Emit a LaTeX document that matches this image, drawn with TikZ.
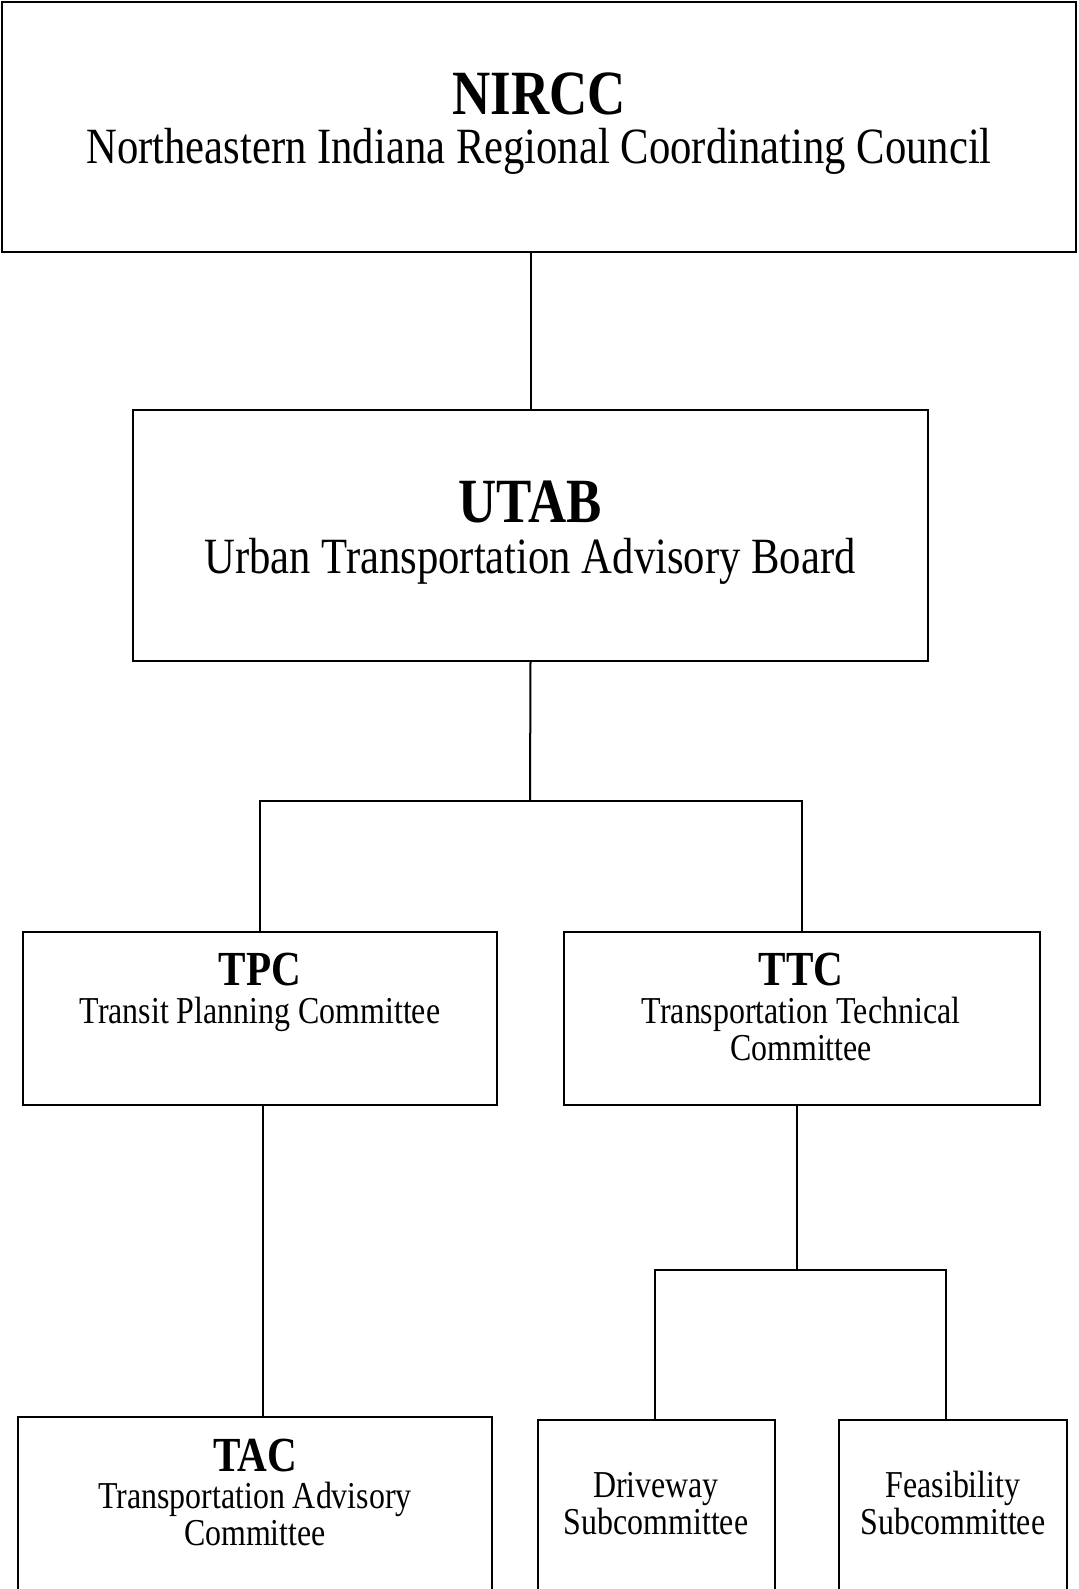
\documentclass[tikz,border=0pt]{standalone}
\usepackage{fontspec}
\setmainfont[FakeStretch=0.84]{Liberation Serif}

\tikzset{
  box/.style={draw, line width=1pt, rectangle, inner sep=0pt, outer sep=0pt, anchor=north west},
  link/.style={line width=1pt},
  bigname/.style={font=\fontsize{31.5}{31.5}\selectfont\bfseries, inner sep=0pt, anchor=base},
  bigtext/.style={font=\fontsize{25.4}{25.4}\selectfont, inner sep=0pt, anchor=base},
  unitname/.style={font=\fontsize{24.5}{24.5}\selectfont\bfseries, inner sep=0pt, anchor=base},
  unittext/.style={font=\fontsize{19}{18.5}\selectfont, inner sep=0pt, anchor=base, align=center}
}

\begin{document}
\begin{tikzpicture}[x=0.5pt, y=-0.5pt]
  \useasboundingbox (0,0) rectangle (1078,1589);

  % boxes
  \node[box, minimum width=537pt, minimum height=125pt] (nircc) at (2,2) {};
  \node[box, minimum width=397.5pt, minimum height=125.5pt] (utab) at (133,410) {};
  \node[box, minimum width=237pt, minimum height=86.5pt] (tpc) at (23,932) {};
  \node[box, minimum width=238pt, minimum height=86.5pt] (ttc) at (564,932) {};
  \node[box, minimum width=237pt, minimum height=111.5pt] (tac) at (18,1417) {};
  \node[box, minimum width=118.5pt, minimum height=110pt] (drive) at (538,1420) {};
  \node[box, minimum width=114pt, minimum height=110pt] (feas) at (839,1420) {};

  % labels (base = last line)
  \node[bigname] (nirccname) at (539,114.5) {NIRCC};
  \node[bigtext] (nircctext) at (539,164) {Northeastern Indiana Regional Coordinating Council};
  \node[bigname] (utabname) at (530,522) {UTAB};
  \node[bigtext] (utabtext) at (530,573.5) {Urban Transportation Advisory Board};
  \node[unitname] (tpcname) at (260,985) {TPC};
  \node[unittext] (tpctext) at (260,1023) {Transit Planning Committee};
  \node[unitname] (ttcname) at (801,985) {TTC};
  \node[unittext] (ttctext) at (801,1060) {Transportation Technical\\Committee};
  \node[unitname] (tacname) at (255,1471) {TAC};
  \node[unittext] (tactext) at (255,1545) {Transportation Advisory\\Committee};
  \node[unittext] (drivetext) at (656,1534) {Driveway\\Subcommittee};
  \node[unittext] (feastext) at (953,1534) {Feasibility\\Subcommittee};

  % connectors
  \coordinate (utabfork) at (530,801);
  \coordinate (ttcfork) at (797,1270);
  \draw[link] (nircc.south -| utab.north) -- (utab.north);
  \draw[link] (utab.south) -- (utabfork);
  \draw[link] (tpc.north) |- (utabfork) -| (ttc.north);
  \draw[link] ([xshift=1.5pt]tpc.south) -- ([xshift=1.5pt]tpc.south |- tac.north);
  \draw[link] (ttc.south -| ttcfork) -- (ttcfork);
  \draw[link] ([xshift=-1pt]drive.north) |- (ttcfork) -| ([xshift=-3.5pt]feas.north);
\end{tikzpicture}
\end{document}
